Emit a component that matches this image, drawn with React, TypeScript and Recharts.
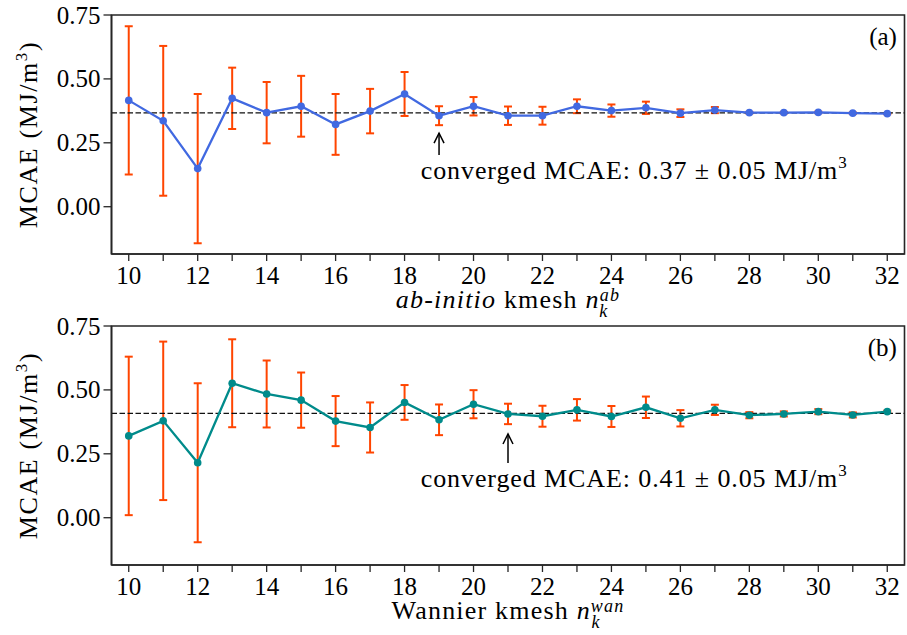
import React from 'react';
import {
  LineChart,
  Line,
  XAxis,
  YAxis,
  ErrorBar,
  ReferenceLine,
  ReferenceDot,
  ReferenceArea,
  Label,
} from 'recharts';

// ---------------- data ----------------
const kmesh = [10, 11, 12, 13, 14, 15, 16, 17, 18, 19, 20, 21, 22, 23, 24, 25, 26, 27, 28, 29, 30, 31, 32];
const yTicks = [0, 0.25, 0.5, 0.75];

const abMcae = [0.416, 0.336, 0.149, 0.424, 0.368, 0.393, 0.322, 0.374, 0.441, 0.356, 0.393, 0.356, 0.356, 0.393, 0.376, 0.387, 0.366, 0.378, 0.368, 0.368, 0.369, 0.366, 0.364];
const abErr = [0.29, 0.293, 0.292, 0.12, 0.12, 0.119, 0.119, 0.087, 0.086, 0.037, 0.036, 0.036, 0.035, 0.027, 0.024, 0.024, 0.015, 0.012, 0.003, 0.003, 0.003, 0.003, 0.002];

const wanMcae = [0.32, 0.379, 0.215, 0.526, 0.484, 0.46, 0.378, 0.353, 0.451, 0.383, 0.444, 0.406, 0.397, 0.422, 0.396, 0.432, 0.389, 0.422, 0.401, 0.406, 0.415, 0.402, 0.415];
const wanErr = [0.31, 0.31, 0.311, 0.172, 0.131, 0.108, 0.098, 0.098, 0.068, 0.06, 0.055, 0.04, 0.041, 0.042, 0.041, 0.042, 0.032, 0.02, 0.012, 0.01, 0.01, 0.01, 0.004];

const abConverged = 0.367;
const wanConverged = 0.408;
const abAnnotation = 'converged MCAE: 0.37 \u00b1 0.05 MJ/m';
const wanAnnotation = 'converged MCAE: 0.41 \u00b1 0.05 MJ/m';

// ---------------- style ----------------
const FONT = "'Liberation Serif', 'DejaVu Serif', serif";
const fontStyle = (size: number, extra: React.CSSProperties = {}): React.CSSProperties => ({
  fontFamily: FONT,
  fontSize: size,
  ...extra,
});
const X_DOMAIN: [number, number] = [9.5, 32.5];
const Y_DOMAIN: [number, number] = [-0.185, 0.75];
const ERR_COLOR = '#ff4500';

const XTick = (props: any) => {
  const { x, y, payload } = props;
  const v = payload.value;
  if (v % 2 !== 0) return <g />;
  return (
    <text x={x} y={y} dy="0.71em" textAnchor="middle" style={fontStyle(25)} fill="#000">
      {v}
    </text>
  );
};

const YTick = (props: any) => {
  const { x, y, payload } = props;
  return (
    <text x={x} y={y} dy="0.34em" textAnchor="end" style={fontStyle(25)} fill="#000">
      {Number(payload.value).toFixed(2)}
    </text>
  );
};

const YLabel = (props: any) => {
  const vb = props.viewBox || { x: 0, y: 0, width: 0, height: 0 };
  const cx = vb.x + 28;
  const cy = vb.y + vb.height / 2;
  return (
    <text
      transform={`translate(${cx},${cy}) rotate(-90)`}
      textAnchor="middle"
      dy="0.33em"
      style={fontStyle(26, { letterSpacing: 1.6 })}
      fill="#000"
    >
      MCAE (MJ/m<tspan dy={-10} style={{ fontSize: 17 }}>3</tspan>
      <tspan dy={10}>)</tspan>
    </text>
  );
};

const makeXLabel = (prefix: React.ReactNode, sup: string, supWidth: number) => (props: any) => {
  const vb = props.viewBox || { x: 0, y: 0, width: 0, height: 0 };
  const cx = vb.x + vb.width / 2;
  const by = vb.y + 54;
  return (
    <text x={cx} y={by} textAnchor="middle" style={fontStyle(26, { letterSpacing: 1.2 })} fill="#000">
      {prefix}
      <tspan style={{ fontStyle: 'italic' }}>n</tspan>
      <tspan style={{ fontStyle: 'italic', fontSize: 18 }} dy={-7}>
        {sup}
      </tspan>
      <tspan style={{ fontStyle: 'italic', fontSize: 18 }} dx={-supWidth} dy={16}>
        k
      </tspan>
    </text>
  );
};

const abXLabel = makeXLabel(
  <>
    <tspan style={{ fontStyle: 'italic' }}>ab-initio</tspan>
    <tspan>{' kmesh '}</tspan>
  </>,
  'ab',
  21
);
const wanXLabel = makeXLabel(<tspan>{'Wannier kmesh '}</tspan>, 'wan', 33);

type PanelProps = {
  mcae: number[];
  err: number[];
  color: string;
  converged: number;
  arrowX: number;
  arrowTail: number;
  arrowTip: number;
  textX: number;
  textY: number;
  annotation: string;
  panelLabel: string;
  labelX: number;
  labelY: number;
  xLabel: (p: any) => React.ReactElement;
  height: number;
  marginTop: number;
  marginBottom: number;
  xAxisHeight: number;
};

function Panel(p: PanelProps) {
  const data = kmesh.map((k, i) => ({ k, v: p.mcae[i], e: p.err[i] }));
  return (
    <LineChart
      width={907}
      height={p.height}
      data={data}
      margin={{ top: p.marginTop, right: 2.5, bottom: p.marginBottom, left: 0 }}
    >
      <XAxis
        type="number"
        dataKey="k"
        domain={X_DOMAIN}
        ticks={kmesh}
        interval={0}
        allowDataOverflow
        height={p.xAxisHeight}
        tickSize={7}
        tickMargin={5}
        tick={XTick}
        axisLine={{ stroke: '#262626', strokeWidth: 1.6 }}
        tickLine={{ stroke: '#262626', strokeWidth: 1.3 }}
      >
        <Label content={p.xLabel} />
      </XAxis>
      <YAxis
        type="number"
        domain={Y_DOMAIN}
        ticks={yTicks}
        interval={0}
        allowDataOverflow
        width={111.5}
        tickSize={8}
        tickMargin={3}
        tick={YTick}
        axisLine={{ stroke: '#262626', strokeWidth: 1.6 }}
        tickLine={{ stroke: '#262626', strokeWidth: 1.3 }}
      >
        <Label content={YLabel} />
      </YAxis>
      <ReferenceArea
        x1={X_DOMAIN[0]}
        x2={X_DOMAIN[1]}
        y1={Y_DOMAIN[0]}
        y2={Y_DOMAIN[1]}
        fill="none"
        fillOpacity={0}
        stroke="#262626"
        strokeWidth={1.6}
        ifOverflow="visible"
      />
      <Line
        dataKey="v"
        stroke="none"
        dot={false}
        activeDot={false}
        isAnimationActive={false}
        legendType="none"
      >
        <ErrorBar dataKey="e" width={4} stroke={ERR_COLOR} strokeWidth={2} isAnimationActive={false} />
      </Line>
      <ReferenceLine y={p.converged} stroke="#111" strokeWidth={1.3} strokeDasharray="5.5 2.5" />
      <Line
        dataKey="v"
        stroke={p.color}
        strokeWidth={2.3}
        dot={{ r: 3.8, fill: p.color, stroke: p.color, strokeWidth: 0 }}
        activeDot={false}
        isAnimationActive={false}
      />
      <ReferenceLine
        segment={[
          { x: p.arrowX, y: p.arrowTail },
          { x: p.arrowX, y: p.arrowTip },
        ]}
        stroke="#000"
        strokeWidth={1.5}
      />
      <ReferenceDot
        x={p.arrowX}
        y={p.arrowTip}
        r={0}
        shape={(s: any) => (
          <path
            d={`M ${s.cx - 5} ${s.cy + 10} L ${s.cx} ${s.cy} L ${s.cx + 5} ${s.cy + 10}`}
            fill="none"
            stroke="#000"
            strokeWidth={1.5}
          />
        )}
      />
      <ReferenceDot
        x={p.textX}
        y={p.textY}
        r={0}
        shape={(s: any) => (
          <text x={s.cx} y={s.cy} style={fontStyle(26, { letterSpacing: 0.9 })} fill="#000">
            {p.annotation}
            <tspan dy={-11} style={{ fontSize: 17 }}>
              3
            </tspan>
          </text>
        )}
      />
      <ReferenceDot
        x={p.labelX}
        y={p.labelY}
        r={0}
        shape={(s: any) => (
          <text x={s.cx} y={s.cy} textAnchor="end" style={fontStyle(25)} fill="#000">
            {p.panelLabel}
          </text>
        )}
      />
    </LineChart>
  );
}

export default function App() {
  return (
    <div style={{ position: 'absolute', left: 0, top: 0, width: 907, height: 635, background: '#fff' }}>
      <div style={{ position: 'absolute', left: 0, top: 0 }}>
        <Panel
          mcae={abMcae}
          err={abErr}
          color="#4169e1"
          converged={abConverged}
          arrowX={19}
          arrowTail={0.202}
          arrowTip={0.288}
          textX={18.47}
          textY={0.108}
          annotation={abAnnotation}
          panelLabel="(a)"
          labelX={32.28}
          labelY={0.633}
          xLabel={abXLabel}
          height={330}
          marginTop={15}
          marginBottom={12}
          xAxisHeight={64}
        />
      </div>
      <div style={{ position: 'absolute', left: 0, top: 310 }}>
        <Panel
          mcae={wanMcae}
          err={wanErr}
          color="#008b8b"
          converged={wanConverged}
          arrowX={21}
          arrowTail={0.214}
          arrowTip={0.3275}
          textX={18.47}
          textY={0.12}
          annotation={wanAnnotation}
          panelLabel="(b)"
          labelX={32.28}
          labelY={0.633}
          xLabel={wanXLabel}
          height={325}
          marginTop={16}
          marginBottom={0}
          xAxisHeight={70}
        />
      </div>
    </div>
  );
}
